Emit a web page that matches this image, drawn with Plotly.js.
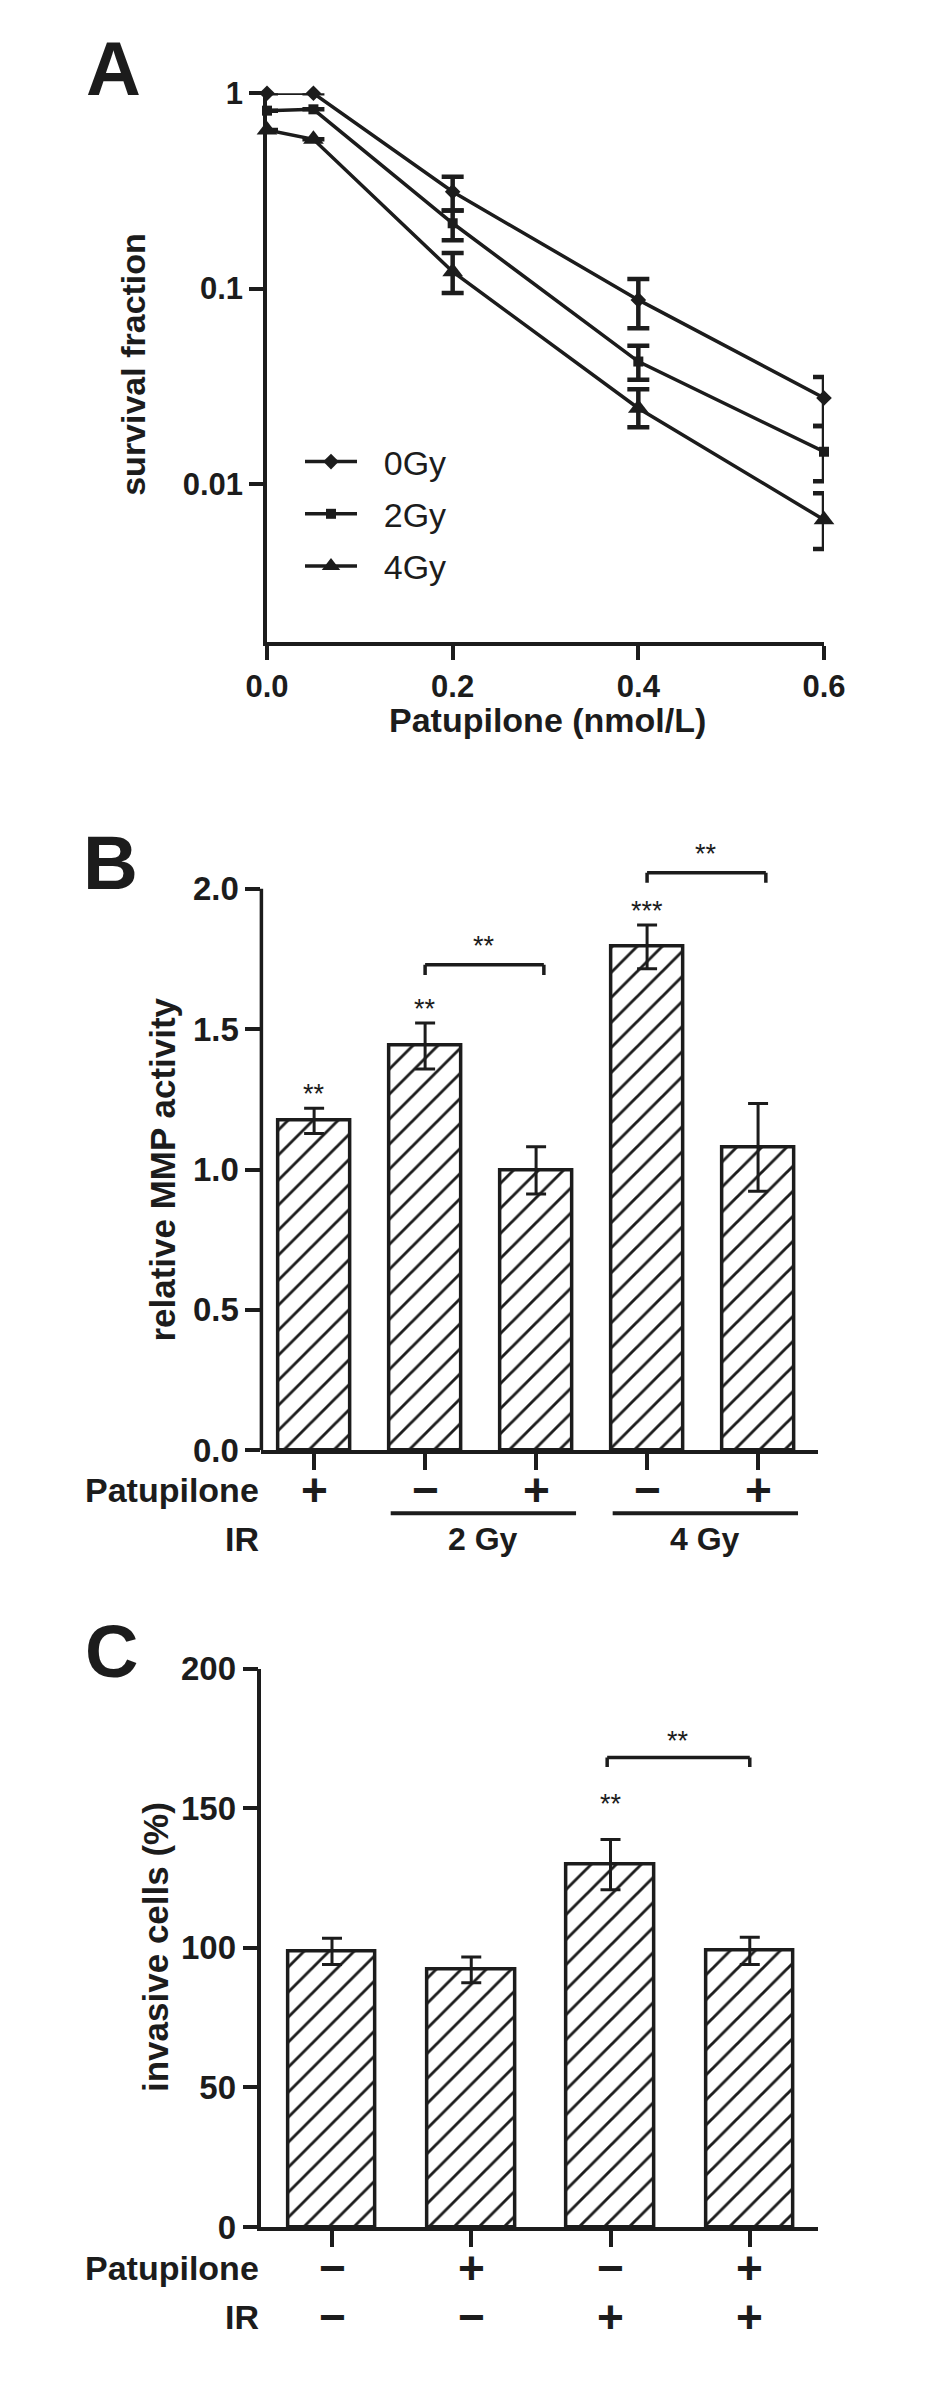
<!DOCTYPE html>
<html>
<head>
<meta charset="utf-8">
<script src="https://cdn.plot.ly/plotly-3.0.1.min.js"></script>
<style>
body{margin:0;background:#ffffff;}
#figure{width:933px;height:2402px;}
</style>
</head>
<body>
<div id="figure"></div>
<script>

/* ==========================================
   DATA - PANEL A (survival curves)
========================================== */

const doses = [0, 0.05, 0.2, 0.4, 0.6];

const survival0Gy = [1, 1, 0.313, 0.0875, 0.0275];
const survival0GyUp = [0, 0, 0.061, 0.0245, 0.0077];
const survival0GyDown = [0, 0, 0.062, 0.0248, 0.0077];

const survival2Gy = [0.815, 0.828, 0.216, 0.0423, 0.0146];
const survival2GyUp = [0, 0, 0.035, 0.0087, 0.0052];
const survival2GyDown = [0, 0, 0.039, 0.0082, 0.0043];

const survival4Gy = [0.649, 0.581, 0.122, 0.0244, 0.00654];
const survival4GyUp = [0, 0, 0.030, 0.0061, 0.0024];
const survival4GyDown = [0, 0, 0.027, 0.0049, 0.0019];

const seriesNames = ["0Gy", "2Gy", "4Gy"];


/* ==========================================
   DATA - PANEL B (MMP activity)
========================================== */

const bConditions = ["Patupilone", "2 Gy", "2 Gy + Patupilone", "4 Gy", "4 Gy + Patupilone"];
const bActivity = [1.173, 1.440, 0.997, 1.793, 1.079];
const bActivityErr = [0.045, 0.082, 0.084, 0.078, 0.156];
const bPatupilone = ["+", "\u2212", "+", "\u2212", "+"];
const bStars = ["**", "**", "", "***", ""];

const bIRLabels = ["2 Gy", "4 Gy"];
const bIRFirst = [1, 3];
const bIRLast = [2, 4];

const bCompareFrom = [1, 3];
const bCompareTo = [2, 4];
const bCompareY = [1.729, 2.057];
const bCompareStars = ["**", "**"];


/* ==========================================
   DATA - PANEL C (invasion)
========================================== */

const cConditions = ["control", "Patupilone", "IR", "IR + Patupilone"];
const cInvasive = [98.7, 92.1, 129.8, 98.9];
const cInvasiveErr = [4.7, 4.6, 9.0, 4.9];
const cPatupilone = ["\u2212", "+", "\u2212", "+"];
const cIR = ["\u2212", "\u2212", "+", "+"];
const cStars = ["", "", "**", ""];

const cCompareFrom = [1.976];
const cCompareTo = [3.0];
const cCompareY = [168.1];
const cCompareStars = ["**"];


/* ==========================================
   STYLE / LAYOUT HELPERS
========================================== */

const W = 933;
const H = 2402;
const INK = "#1c1c1c";
const FONT = "Liberation Sans, Arial, Helvetica, sans-serif";

function px(x){ return x / W; }
function py(y){ return 1 - y / H; }

function font(size, weight){
    return {family: FONT, size: size, color: INK, weight: weight || "normal"};
}

function label(x, y, text, size, opts){
    return Object.assign({
        x: x, y: y, xref: "paper", yref: "paper",
        text: text, showarrow: false,
        xanchor: "center", yanchor: "middle",
        font: font(size, "bold")
    }, opts || {});
}

function hline(xref, yref, x0, x1, y, w){
    return {type: "line", xref: xref, yref: yref, x0: x0, x1: x1, y0: y, y1: y,
            line: {color: INK, width: w}};
}

function vline(xref, yref, x, y0, y1, w){
    return {type: "line", xref: xref, yref: yref, x0: x, x1: x, y0: y0, y1: y1,
            line: {color: INK, width: w}};
}

function baseAxis(){
    return {
        showgrid: false, zeroline: false,
        showline: true, linecolor: INK, linewidth: 3.5,
        ticks: "outside", tickcolor: INK, tickwidth: 3.5,
        fixedrange: true
    };
}


/* ==========================================
   PANEL A TRACES
========================================== */

// legend text is pushed right a little, as in the original figure
const LEGEND_PAD = "\u00a0\u00a0\u200a";

function curve(name, y, up, down, symbol, size, group){
    return {
        x: doses, y: y, name: LEGEND_PAD + name,
        mode: "lines+markers",
        line: {color: INK, width: 3.5},
        marker: {symbol: symbol, size: size, color: INK},
        error_y: {type: "data", symmetric: false, array: up, arrayminus: down,
                  color: INK, thickness: 4.5, width: 11},
        cliponaxis: false,
        legendgroup: group,
        xaxis: "x", yaxis: "y"
    };
}

const traces = [
    curve(seriesNames[0], survival0Gy, survival0GyUp, survival0GyDown, "diamond", 12, "g0"),
    curve(seriesNames[1], survival2Gy, survival2GyUp, survival2GyDown, "square", 10, "g1"),
    curve(seriesNames[2], survival4Gy, survival4GyUp, survival4GyDown, "triangle-up", 18, "g2")
];


/* ==========================================
   PANEL B / C BARS
========================================== */

function hatchBars(values, errors, width, xa, ya){
    return {
        type: "bar",
        x: values.map((v, i) => i),
        y: values,
        width: width,
        marker: {
            color: "#ffffff",
            line: {color: INK, width: 3.5},
            pattern: {shape: "/", fgcolor: INK, bgcolor: "#ffffff", size: 17.7, solidity: 0.16}
        },
        error_y: {type: "data", array: errors, color: INK, thickness: 3, width: 10},
        showlegend: false,
        xaxis: xa, yaxis: ya
    };
}

traces.push(hatchBars(bActivity, bActivityErr, 0.65, "x2", "y2"));
traces.push(hatchBars(cInvasive, cInvasiveErr, 0.63, "x3", "y3"));


/* ==========================================
   ANNOTATIONS AND SHAPES
========================================== */

const annotations = [];
const shapes = [];

// panel letters
annotations.push(label(px(113.5), py(69), "A", 76));
annotations.push(label(px(110), py(862.5), "B", 76));
annotations.push(label(px(111), py(1651.5), "C", 74));

// axis titles
annotations.push(label(px(547), py(720), "Patupilone (nmol/L)", 34));
annotations.push(label(px(132.8), py(364), "survival fraction", 34, {textangle: -90}));
annotations.push(label(px(163), py(1169.6), "relative MMP activity", 35, {textangle: -90}));
annotations.push(label(px(155.5), py(1947.5), "invasive cells (%)", 35, {textangle: -90}));

// panel B - stars over bars
bStars.forEach((s, i)=>{
    if(!s) return;
    annotations.push({x: i, y: bActivity[i] + bActivityErr[i] + 0.05, xref: "x2", yref: "y2",
        text: s, showarrow: false, yanchor: "middle", font: font(27)});
});

// panel B - comparison brackets
bCompareFrom.forEach((a, k)=>{
    const b = bCompareTo[k] + 0.07;
    const y = bCompareY[k];
    shapes.push(hline("x2", "y2", a, b, y, 3.5));
    shapes.push(vline("x2", "y2", a, y, y - 0.036, 3.5));
    shapes.push(vline("x2", "y2", b, y, y - 0.036, 3.5));
    annotations.push({x: (a + b) / 2, y: y + 0.066, xref: "x2", yref: "y2",
        text: bCompareStars[k], showarrow: false, yanchor: "middle", font: font(27)});
});

// panel B - y axis line (range is extended for the brackets)
shapes.push(vline("x2 domain", "y2", 0, 0, 2, 3.5));

// panel B - treatment rows
annotations.push(label(px(261), py(1490), "Patupilone", 34, {xanchor: "right"}));
annotations.push(label(px(261), py(1539), "IR", 34, {xanchor: "right"}));

bPatupilone.forEach((s, i)=>{
    annotations.push({x: i, y: py(1490), xref: "x2", yref: "paper", text: s,
        showarrow: false, yanchor: "middle", font: font(46, "bold")});
});

bIRLabels.forEach((t, k)=>{
    const a = bIRFirst[k] - 0.31;
    const b = bIRLast[k] + 0.36;
    shapes.push(hline("x2", "paper", a, b, py(1513.3), 4));
    annotations.push({x: (a + b) / 2, y: py(1539), xref: "x2", yref: "paper", text: t,
        showarrow: false, yanchor: "middle", font: font(32, "bold")});
});

// panel C - stars and bracket
cStars.forEach((s, i)=>{
    if(!s) return;
    annotations.push({x: i, y: cInvasive[i] + cInvasiveErr[i] + 12.7, xref: "x3", yref: "y3",
        text: s, showarrow: false, yanchor: "middle", font: font(27)});
});

cCompareFrom.forEach((a, k)=>{
    const b = cCompareTo[k];
    const y = cCompareY[k];
    shapes.push(hline("x3", "y3", a, b, y, 3.5));
    shapes.push(vline("x3", "y3", a, y, y - 3.4, 3.5));
    shapes.push(vline("x3", "y3", b, y, y - 3.4, 3.5));
    annotations.push({x: (a + b) / 2, y: y + 5.8, xref: "x3", yref: "y3",
        text: cCompareStars[k], showarrow: false, yanchor: "middle", font: font(27)});
});

// panel C - treatment rows
annotations.push(label(px(261), py(2267.6), "Patupilone", 34, {xanchor: "right"}));
annotations.push(label(px(261), py(2316.6), "IR", 34, {xanchor: "right"}));

cPatupilone.forEach((s, i)=>{
    annotations.push({x: i, y: py(2267.6), xref: "x3", yref: "paper", text: s,
        showarrow: false, yanchor: "middle", font: font(46, "bold")});
});

cIR.forEach((s, i)=>{
    annotations.push({x: i, y: py(2316.6), xref: "x3", yref: "paper", text: s,
        showarrow: false, yanchor: "middle", font: font(46, "bold")});
});


/* ==========================================
   LAYOUT
========================================== */

const layout = {
    width: W,
    height: H,
    margin: {l: 0, r: 0, t: 0, b: 0},
    paper_bgcolor: "#ffffff",
    plot_bgcolor: "rgba(0,0,0,0)",
    bargap: 0,
    showlegend: true,
    legend: {
        x: px(300), y: py(433), xanchor: "left", yanchor: "top",
        bgcolor: "rgba(0,0,0,0)",
        font: font(34),
        traceorder: "grouped",
        tracegroupgap: 5,
        itemwidth: 52
    },

    xaxis: Object.assign(baseAxis(), {
        domain: [px(267), px(824)], range: [0, 0.6], anchor: "y",
        tickvals: [0, 0.2, 0.4, 0.6], tickformat: ".1f",
        ticklen: 14, tickfont: font(31, "bold")
    }),
    yaxis: Object.assign(baseAxis(), {
        domain: [py(642), py(93.3)], type: "log", range: [-2.81, 0], anchor: "x",
        tickvals: [1, 0.1, 0.01], ticktext: ["1", "0.1", "0.01"],
        ticklen: 14, tickfont: font(31, "bold")
    }),

    xaxis2: Object.assign(baseAxis(), {
        domain: [px(261.4), px(818)], range: [-0.475, 4.54], anchor: "y2",
        tickvals: bConditions.map((c, i) => i), showticklabels: false,
        ticklen: 16
    }),
    yaxis2: Object.assign(baseAxis(), {
        domain: [py(1450.3), py(846.6)], range: [0, 2.15], anchor: "x2",
        showline: false,
        tickmode: "linear", tick0: 0, dtick: 0.5, tickformat: ".1f",
        ticklen: 15, tickfont: font(33, "bold")
    }),

    xaxis3: Object.assign(baseAxis(), {
        domain: [px(261.4), px(818)], range: [-0.507, 3.49], anchor: "y3",
        tickvals: cConditions.map((c, i) => i), showticklabels: false,
        ticklen: 16
    }),
    yaxis3: Object.assign(baseAxis(), {
        domain: [py(2227), py(1668.5)], range: [0, 200], anchor: "x3",
        tickmode: "linear", tick0: 0, dtick: 50,
        ticklen: 15, tickfont: font(33, "bold")
    }),

    annotations: annotations,
    shapes: shapes
};

Plotly.newPlot("figure", traces, layout, {displayModeBar: false, responsive: false});

</script>
</body>
</html>
